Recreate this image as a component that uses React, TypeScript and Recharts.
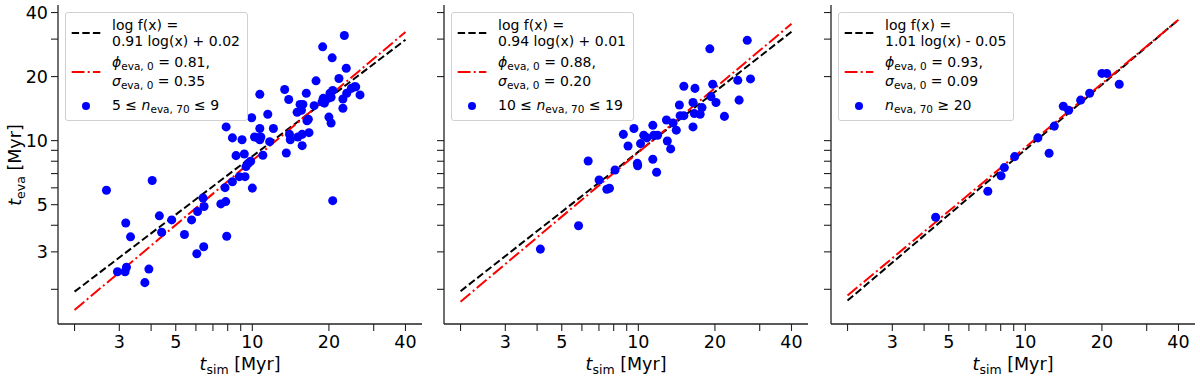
import React from 'react';
import { ScatterChart, Scatter, XAxis, YAxis, ZAxis, Legend } from 'recharts';

const FONT = "'DejaVu Sans', sans-serif";

// shared log axes
const tickValues = [2, 3, 4, 5, 6, 7, 8, 9, 10, 20, 30, 40];
const labelledTicks = [3, 5, 10, 20, 40];
const xDomain = [1.722, 46.45];
const yDomain = [1.374, 43.4];
const fitX = [2, 40];

// panel 1: 5 <= n_eva,70 <= 9
const sim1 = [2.67, 4.04, 3.18, 3.32, 4.31, 4.4, 4.82, 2.95, 3.16, 3.2, 3.92, 3.78, 5.41, 5.77, 6.05, 6.44, 6.09, 6.4, 6.46, 7.52, 7.86, 7.93, 7.81, 8.35, 8.89, 9.36, 7.89, 8.35, 8.63, 9.11, 9.3, 9.44, 9.64, 9.85, 10.0, 9.94, 10.2, 10.5, 10.7, 10.7, 10.8, 10.7, 11.0, 11.5, 11.7, 12.1, 13.4, 13.9, 13.6, 14.0, 14.1, 15.0, 15.1, 15.4, 15.6, 15.8, 15.7, 15.7, 16.3, 16.4, 16.6, 16.7, 17.5, 17.8, 18.9, 18.8, 19.0, 19.2, 19.9, 20.0, 20.4, 20.6, 20.2, 20.4, 20.7, 20.7, 21.9, 22.7, 22.7, 23.0, 23.4, 23.5, 24.5, 25.2, 25.5, 26.5];
const eva1 = [5.84, 6.49, 4.1, 3.53, 4.43, 3.71, 4.24, 2.42, 2.42, 2.54, 2.49, 2.15, 3.62, 4.24, 2.94, 3.17, 4.64, 5.37, 4.9, 5.04, 5.17, 3.55, 6.01, 6.4, 6.77, 6.77, 11.6, 10.3, 8.5, 10.1, 8.65, 7.55, 7.82, 8.0, 5.98, 12.8, 10.4, 10.3, 11.4, 10.1, 10.4, 16.5, 8.54, 13.3, 9.89, 11.4, 17.4, 15.6, 8.75, 10.7, 10.1, 13.6, 10.4, 14.8, 13.9, 14.8, 9.47, 10.7, 16.7, 12.4, 12.6, 10.9, 14.6, 19.1, 27.6, 15.2, 15.8, 15.0, 15.8, 12.9, 12.1, 24.5, 16.7, 16.0, 17.2, 5.22, 19.6, 14.2, 15.7, 31.2, 21.9, 16.7, 17.6, 17.9, 17.9, 16.4];
const fitLog1 = [1.95, 29.8];
const fitModel1 = [1.6, 32.4];

// panel 2: 10 <= n_eva,70 <= 19
const sim2 = [4.12, 5.82, 6.35, 7.01, 7.52, 7.7, 8.1, 8.73, 9.11, 9.61, 9.91, 9.94, 10.2, 10.5, 10.8, 11.4, 11.4, 11.5, 11.8, 11.9, 12.9, 13.0, 13.4, 13.7, 14.1, 14.5, 14.6, 15.1, 15.1, 16.4, 16.4, 16.6, 16.7, 17.5, 17.8, 19.1, 19.3, 19.6, 20.2, 21.8, 24.6, 24.9, 26.8, 27.6];
const eva2 = [3.09, 3.98, 8.02, 6.53, 5.91, 5.97, 7.28, 10.7, 9.44, 11.4, 7.82, 7.62, 9.68, 10.6, 10.3, 11.8, 8.17, 10.6, 7.1, 10.6, 12.5, 9.96, 9.14, 12.1, 11.2, 14.7, 13.1, 18.0, 13.1, 15.1, 11.6, 13.4, 17.6, 13.3, 14.3, 27.0, 16.1, 18.4, 15.1, 13.0, 19.2, 15.5, 29.6, 19.5];
const fitLog2 = [1.96, 32.5];
const fitModel2 = [1.75, 35.4];

// panel 3: n_eva,70 >= 20
const sim3 = [4.44, 7.12, 8.03, 8.27, 9.08, 11.2, 12.4, 13.0, 14.1, 14.8, 16.5, 17.9, 20.0, 20.9, 23.4];
const eva3 = [4.36, 5.78, 6.83, 7.47, 8.41, 10.3, 8.72, 11.7, 14.5, 13.9, 15.5, 16.7, 20.7, 20.7, 18.4];
const fitLog3 = [1.77, 37.0];
const fitModel3 = [1.87, 37.0];

const zip = (xs: number[], ys: number[]) => xs.map((x, i) => ({ x, y: ys[i] }));
const fmtTick = (v: number) => (labelledTicks.includes(v) ? String(v) : '');
const noShape = () => <g />;

const frame = { stroke: '#222', strokeWidth: 1.3 };
const tickStyle = { fill: '#000', fontSize: 17.5, fontFamily: FONT };

const Sub = ({ children }: { children: React.ReactNode }) => (
  <span style={{ fontSize: 10.5, position: 'relative', top: 3 }}>{children}</span>
);

function Handle({ kind, h }: { kind: 'dash' | 'dashdot' | 'dot'; h: number }) {
  const mid = h / 2;
  return (
    <svg width={46} height={h} style={{ display: 'block', flex: 'none' }}>
      {kind === 'dash' && (
        <line x1={5.7} x2={34.3} y1={mid} y2={mid} stroke="#000" strokeWidth={2} strokeDasharray="7.4 3.2" />
      )}
      {kind === 'dashdot' && (
        <line x1={5.7} x2={34.3} y1={mid} y2={mid} stroke="#f00" strokeWidth={2} strokeDasharray="12.8 3.2 2 3.2" />
      )}
      {kind === 'dot' && <circle cx={20} cy={mid} r={4} fill="#0000ff" />}
    </svg>
  );
}

function LegendBox({ fit, phi, sigma, sample }: { fit: string; phi: string; sigma: string; sample: React.ReactNode }) {
  return (
    <div
      style={{
        fontFamily: FONT,
        fontSize: 14,
        color: '#000',
        background: 'rgba(255,255,255,0.8)',
        border: '1px solid #d0d0d0',
        borderRadius: 3,
        padding: '4px 7px 5px 0',
        whiteSpace: 'nowrap',
      }}
    >
      <div style={{ display: 'flex', alignItems: 'center', lineHeight: '16px' }}>
        <Handle kind="dash" h={32} />
        <div>
          <div>log f(x) =</div>
          <div>{fit}</div>
        </div>
      </div>
      <div style={{ display: 'flex', alignItems: 'center', lineHeight: '18px', marginTop: 4 }}>
        <Handle kind="dashdot" h={36} />
        <div>
          <div>
            <i>ϕ</i>
            <Sub>eva, 0</Sub> = {phi},
          </div>
          <div>
            <i>σ</i>
            <Sub>eva, 0</Sub> = {sigma}
          </div>
        </div>
      </div>
      <div style={{ display: 'flex', alignItems: 'center', lineHeight: '18px', marginTop: 5 }}>
        <Handle kind="dot" h={18} />
        <div>{sample}</div>
      </div>
    </div>
  );
}

interface PanelProps {
  left: number;
  sim: number[];
  eva: number[];
  fitLog: number[];
  fitModel: number[];
  fit: string;
  phi: string;
  sigma: string;
  sample: React.ReactNode;
  showYLabels: boolean;
}

function Panel({ left, sim, eva, fitLog, fitModel, fit, phi, sigma, sample, showYLabels }: PanelProps) {
  const points = zip(sim, eva);
  const logLine = zip(fitX, fitLog);
  const modelLine = zip(fitX, fitModel);
  return (
    <div style={{ position: 'absolute', left, top: 0 }}>
      <ScatterChart width={442} height={377} margin={{ top: 5, right: 20, bottom: 0, left: 0 }}>
        <XAxis
          type="number"
          dataKey="x"
          scale="log"
          domain={xDomain}
          allowDataOverflow
          ticks={tickValues}
          interval={0}
          tickFormatter={fmtTick}
          tick={tickStyle}
          tickSize={7}
          tickMargin={5}
          height={53}
          axisLine={frame}
          tickLine={{ stroke: '#222', strokeWidth: 1.1 }}
        />
        <XAxis
          xAxisId="top"
          orientation="top"
          type="number"
          scale="log"
          domain={xDomain}
          allowDataOverflow
          height={0}
          tick={false}
          tickLine={false}
          axisLine={frame}
        />
        <YAxis
          type="number"
          dataKey="y"
          scale="log"
          domain={yDomain}
          allowDataOverflow
          ticks={tickValues}
          interval={0}
          tickFormatter={showYLabels ? fmtTick : () => ''}
          tick={tickStyle}
          tickSize={7}
          tickMargin={3}
          width={58}
          axisLine={frame}
          tickLine={{ stroke: '#222', strokeWidth: 1.1 }}
        />
        <YAxis
          yAxisId="right"
          orientation="right"
          type="number"
          scale="log"
          domain={yDomain}
          allowDataOverflow
          width={0}
          tick={false}
          tickLine={false}
          axisLine={frame}
        />
        <ZAxis range={[50, 50]} />
        <Scatter
          data={logLine}
          fill="#000"
          line={{ stroke: '#000', strokeWidth: 2, strokeDasharray: '7.4 3.2' }}
          shape={noShape}
          isAnimationActive={false}
        />
        <Scatter
          data={modelLine}
          fill="#f00"
          line={{ stroke: '#f00', strokeWidth: 2, strokeDasharray: '12.8 3.2 2 3.2' }}
          shape={noShape}
          isAnimationActive={false}
        />
        <Scatter data={points} fill="#0000ff" isAnimationActive={false} />
        <Legend
          layout="vertical"
          align="center"
          verticalAlign="middle"
          wrapperStyle={{ top: 12, left: 65, width: 'auto' }}
          content={() => <LegendBox fit={fit} phi={phi} sigma={sigma} sample={sample} />}
        />
      </ScatterChart>
    </div>
  );
}

const XLabel = ({ center }: { center: number }) => (
  <div
    style={{
      position: 'absolute',
      left: center,
      top: 354,
      transform: 'translateX(-50%)',
      fontFamily: FONT,
      fontSize: 17.5,
      lineHeight: '20px',
      whiteSpace: 'nowrap',
      color: '#000',
    }}
  >
    <i>t</i>
    <span style={{ fontSize: 12.5, position: 'relative', top: 4 }}>sim</span> [Myr]
  </div>
);

export default function App() {
  return (
    <div style={{ position: 'absolute', left: 0, top: 0, width: 1200, height: 377, background: '#fff', overflow: 'hidden' }}>
      <Panel
        left={0}
        sim={sim1}
        eva={eva1}
        fitLog={fitLog1}
        fitModel={fitModel1}
        fit="0.91 log(x) + 0.02"
        phi="0.81"
        sigma="0.35"
        sample={<span>5 ≤ <i>n</i><Sub>eva, 70</Sub> ≤ 9</span>}
        showYLabels
      />
      <Panel
        left={386}
        sim={sim2}
        eva={eva2}
        fitLog={fitLog2}
        fitModel={fitModel2}
        fit="0.94 log(x) + 0.01"
        phi="0.88"
        sigma="0.20"
        sample={<span>10 ≤ <i>n</i><Sub>eva, 70</Sub> ≤ 19</span>}
        showYLabels={false}
      />
      <Panel
        left={773}
        sim={sim3}
        eva={eva3}
        fitLog={fitLog3}
        fitModel={fitModel3}
        fit="1.01 log(x) - 0.05"
        phi="0.93"
        sigma="0.09"
        sample={<span><i>n</i><Sub>eva, 70</Sub> ≥ 20</span>}
        showYLabels={false}
      />
      <XLabel center={240} />
      <XLabel center={626} />
      <XLabel center={1013} />
      <div
        style={{
          position: 'absolute',
          left: 16,
          top: 165,
          transform: 'translate(-50%, -50%) rotate(-90deg)',
          fontFamily: FONT,
          fontSize: 17.5,
          lineHeight: '20px',
          whiteSpace: 'nowrap',
          color: '#000',
        }}
      >
        <i>t</i>
        <span style={{ fontSize: 12.5, position: 'relative', top: 4 }}>eva</span> [Myr]
      </div>
    </div>
  );
}
